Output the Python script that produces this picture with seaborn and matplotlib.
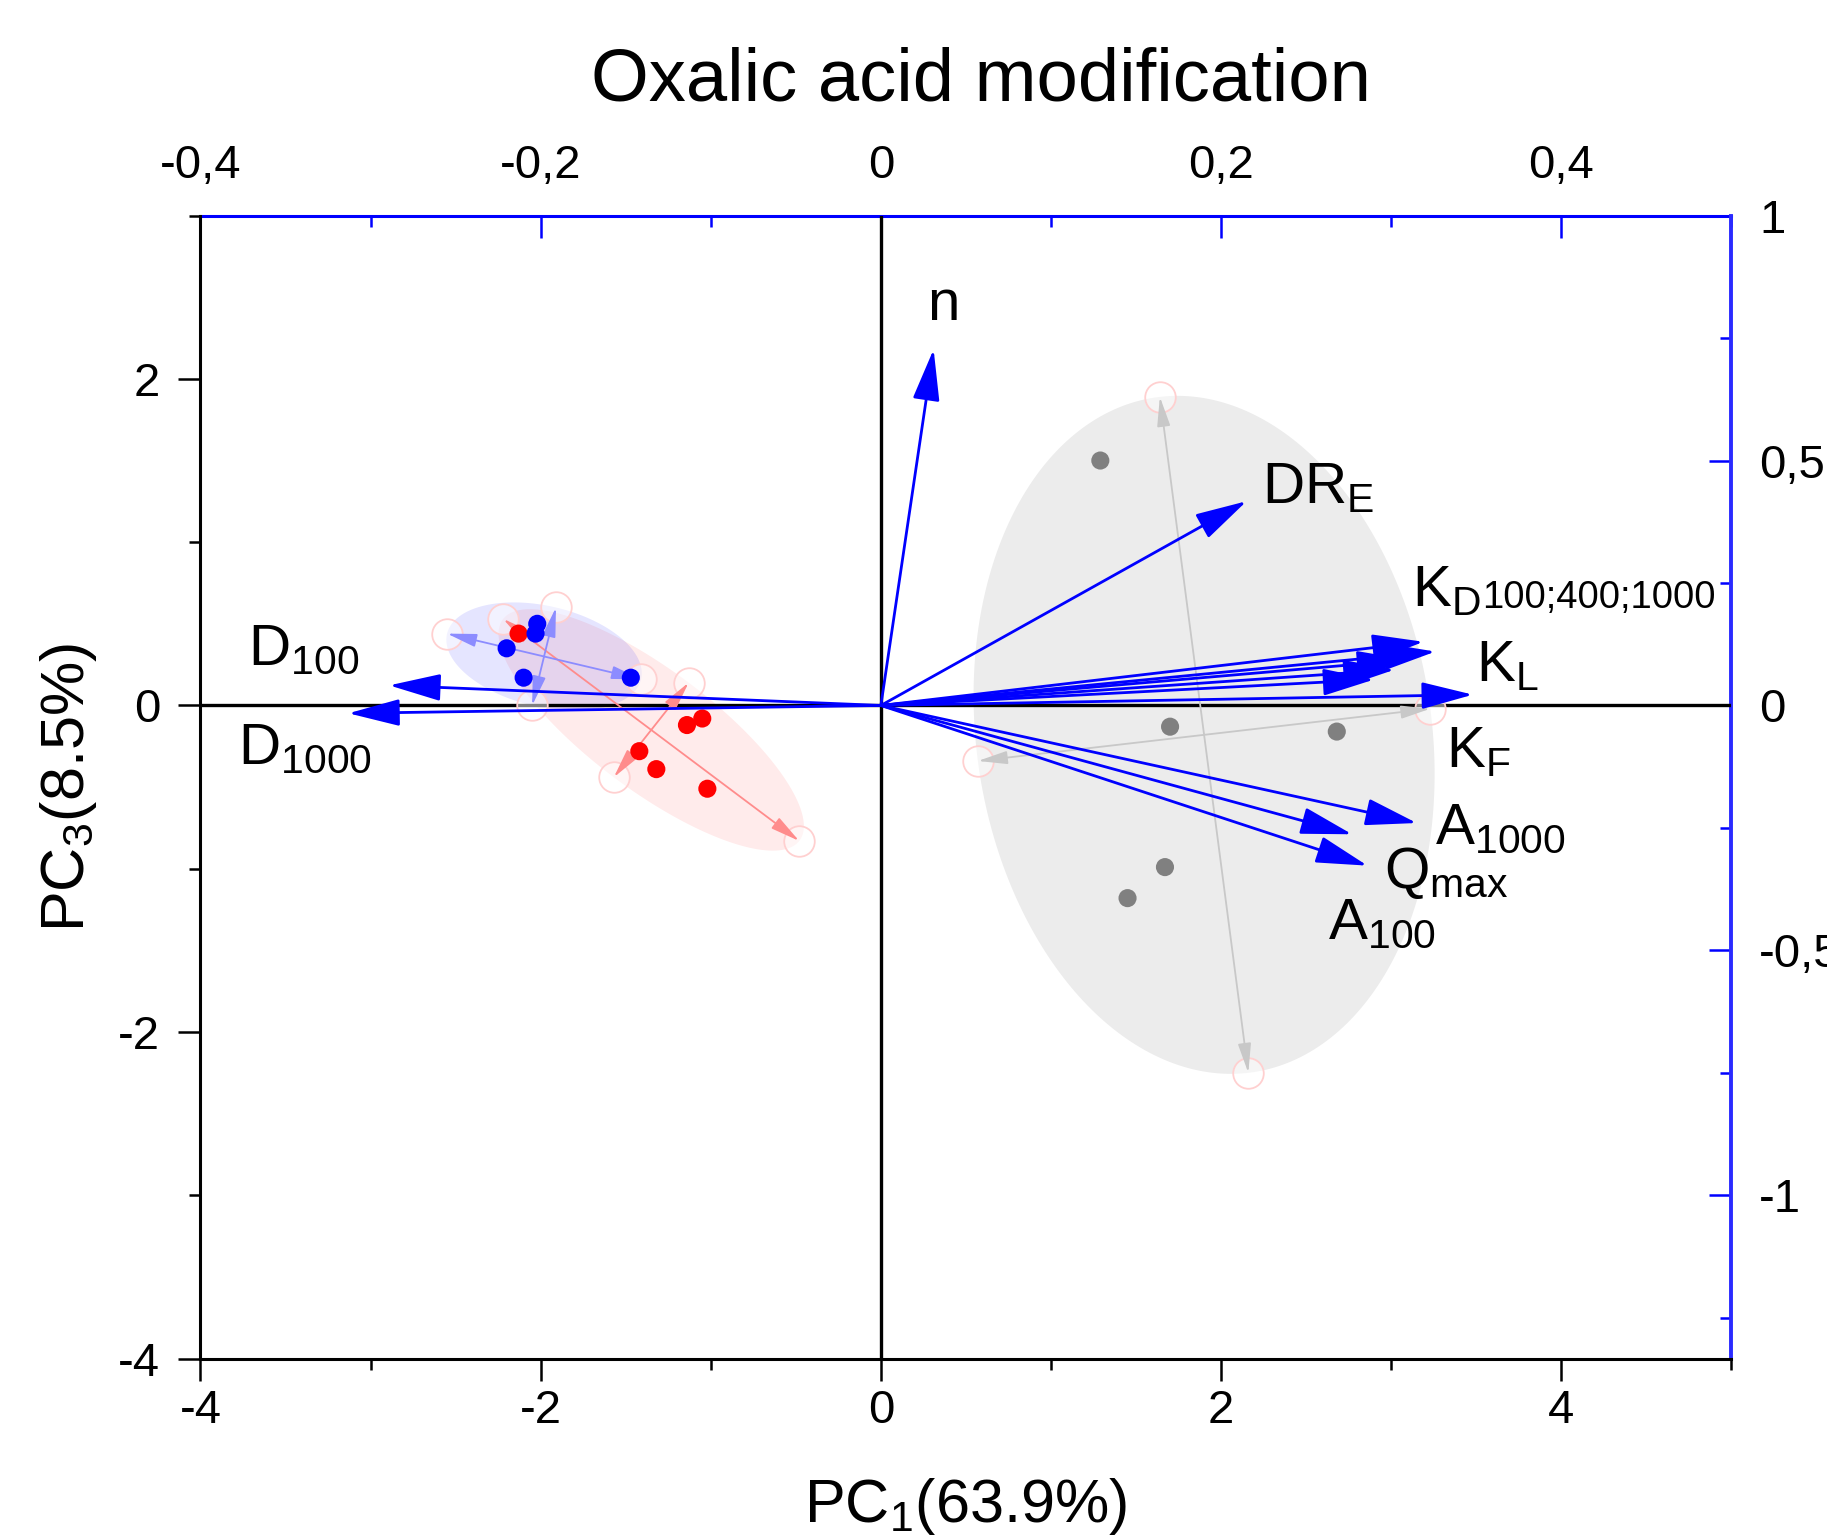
import numpy as np
import pandas as pd
import seaborn as sns
import matplotlib.pyplot as plt
from matplotlib.ticker import MultipleLocator, FuncFormatter

# scores, PC1 / PC3 (bottom and left axes)
gray_pc1 = [1.29, 1.70, 2.68, 1.67, 1.45]
gray_pc3 = [1.50, -0.13, -0.16, -0.99, -1.18]
red_pc1 = [-2.13, -1.05, -1.14, -1.42, -1.32, -1.02]
red_pc3 = [0.44, -0.08, -0.12, -0.28, -0.39, -0.51]
blue_pc1 = [-2.02, -2.03, -2.20, -2.10, -1.47]
blue_pc3 = [0.50, 0.44, 0.35, 0.17, 0.17]

# confidence ellipses: centre, end of first axis, end of second axis
ell_group = ["gray", "red", "blue"]
ell_center = [(1.90, -0.18), (-1.35, -0.15), (-1.98, 0.30)]
ell_axis1 = [(1.64, 1.89), (-2.22, 0.53), (-2.55, 0.44)]
ell_axis2 = [(3.23, -0.02), (-1.13, 0.14), (-1.91, 0.60)]

# loadings (top and right axes)
var_names = ["n", "DR_E", "KD100", "KD400", "KD1000", "K_L", "A400", "K_F",
             "A1000", "Qmax", "A100", "D100", "D1000"]
load_x = [0.031, 0.215, 0.319, 0.326, 0.310, 0.302, 0.290, 0.348,
          0.315, 0.277, 0.286, -0.289, -0.313]
load_y = [0.727, 0.417, 0.130, 0.110, 0.093, 0.073, 0.053, 0.022,
          -0.240, -0.263, -0.327, 0.041, -0.016]

# variable labels (text, baseline position in score units)
lab_text = ["n", r"$\mathrm{DR}_\mathrm{E}$", r"$\mathrm{K}_\mathrm{D}$", r"$\mathrm{K}_\mathrm{L}$",
            r"$\mathrm{K}_\mathrm{F}$", r"$\mathrm{A}_\mathrm{1000}$", r"$\mathrm{Q}_\mathrm{max}$",
            r"$\mathrm{A}_\mathrm{100}$", r"$\mathrm{D}_\mathrm{100}$", r"$\mathrm{D}_\mathrm{1000}$"]
lab_x = [0.27, 2.24, 3.12, 3.50, 3.32, 3.26, 2.96, 2.63, -3.72, -3.78]
lab_y = [2.36, 1.24, 0.61, 0.15, -0.38, -0.85, -1.12, -1.43, 0.25, -0.36]
kd_suffix = "100;400;1000"

X_SCALE = 10.0   # bottom = top * 10
Y_SCALE = 3.0    # left = right * 3

sns.set_style("ticks")
plt.rcParams["font.family"] = ["Liberation Sans", "DejaVu Sans"]
plt.rcParams["mathtext.fontset"] = "custom"
plt.rcParams["mathtext.rm"] = "Liberation Sans"
plt.rcParams["mathtext.it"] = "Liberation Sans:italic"
plt.rcParams["mathtext.bf"] = "Liberation Sans:bold"
plt.rcParams["axes.unicode_minus"] = False
plt.rcParams["text.color"] = "black"
plt.rcParams["axes.labelcolor"] = "black"
plt.rcParams["xtick.color"] = "black"
plt.rcParams["ytick.color"] = "black"

fig = plt.figure(figsize=(18.27, 15.40), dpi=100)
ax = fig.add_axes([0.1097, 0.1178, 0.838, 0.7422])

fill_col = {"gray": ("#808080", 0.15), "red": ("#ff0000", 0.08), "blue": ("#0000ff", 0.10)}
axis_col = {"gray": "#c8c8c8", "red": "#ff8c8c", "blue": "#8c8cff"}
dot_col = {"gray": "#808080", "red": "#ff0000", "blue": "#0000ff"}


def arrow(x0, y0, x1, y1, color, lw, scale, hl, hw, z):
    ax.annotate("", xy=(x1, y1), xytext=(x0, y0),
                arrowprops=dict(arrowstyle=f"-|>,head_length={hl},head_width={hw}",
                                color=color, lw=lw, mutation_scale=scale,
                                shrinkA=0, shrinkB=0),
                zorder=z)


t = np.linspace(0, 2 * np.pi, 300)
for g, c, a1, a2 in zip(ell_group, ell_center, ell_axis1, ell_axis2):
    c = np.array(c)
    u = np.array(a1) - c
    v = np.array(a2) - c
    ex = c[0] + np.cos(t) * u[0] + np.sin(t) * v[0]
    ey = c[1] + np.cos(t) * u[1] + np.sin(t) * v[1]
    col, al = fill_col[g]
    ax.fill(ex, ey, color=col, alpha=al, lw=0, zorder=1)
    ends = [c + u, c - u, c + v, c - v]
    ax.plot([p[0] for p in ends], [p[1] for p in ends], "o", ms=22, ls="none",
            mfc=(1, 1, 1, 0.5), mec="#ffd0d0", mew=1.3, zorder=3)
    for p in ends:
        arrow(c[0], c[1], p[0], p[1], axis_col[g], 1.3, 10, 1.8, 0.4, 3.5)

ax.axhline(0, color="black", lw=2.4, zorder=2)
ax.axvline(0, color="black", lw=2.4, zorder=2)

scores = pd.DataFrame({
    "PC1": gray_pc1 + red_pc1 + blue_pc1,
    "PC3": gray_pc3 + red_pc3 + blue_pc3,
    "group": ["gray"] * len(gray_pc1) + ["red"] * len(red_pc1) + ["blue"] * len(blue_pc1),
})
sns.scatterplot(data=scores, x="PC1", y="PC3", hue="group", palette=dot_col,
                s=170, edgecolor="none", legend=False, ax=ax, zorder=4)

for lx, ly in zip(load_x, load_y):
    arrow(0, 0, lx * X_SCALE, ly * Y_SCALE, "#0000ff", 2.0, 20, 1.6, 0.42, 5)

kd_text = None
for txt, x, y in zip(lab_text, lab_x, lab_y):
    tt = ax.text(x, y, txt, fontsize=42, va="baseline", ha="left", color="black", zorder=6)
    if txt == r"$\mathrm{K}_\mathrm{D}$":
        kd_text = tt
ax.annotate(kd_suffix, xy=(1.0, lab_y[2]), xycoords=(kd_text, "data"),
            xytext=(1, -1.5), textcoords="offset points", fontsize=27.5,
            va="baseline", ha="left", color="black", zorder=6)

ax.set_xlim(-4, 5)
ax.set_ylim(-4, 3)
ax.set_xticks([-4, -2, 0, 2, 4])
ax.set_yticks([-4, -2, 0, 2])
ax.xaxis.set_minor_locator(MultipleLocator(1))
ax.yaxis.set_minor_locator(MultipleLocator(1))
ax.tick_params(which="both", direction="out", width=1.8, colors="black", labelsize=34)
ax.tick_params(which="major", length=16)
ax.tick_params(which="minor", length=8)
ax.tick_params(axis="x", pad=6)
ax.tick_params(axis="y", pad=13)
for s in ["top", "right"]:
    ax.spines[s].set_visible(False)
for s in ["left", "bottom"]:
    ax.spines[s].set_linewidth(2.2)
    ax.spines[s].set_color("black")

ax.set_xlabel(r"PC$_\mathrm{1}$(63.9%)", fontsize=44, color="black")
ax.set_ylabel(r"PC$_\mathrm{3}$(8.5%)", fontsize=44, color="black")
ax.xaxis.set_label_coords(0.5, -0.103)
ax.yaxis.set_label_coords(-0.066, 0.5)


def comma(v, pos):
    s = f"{v:g}"
    if s == "-0":
        s = "0"
    return s.replace(".", ",")


secx = ax.secondary_xaxis("top", functions=(lambda v: v / X_SCALE, lambda v: v * X_SCALE))
secx.set_xticks([-0.4, -0.2, 0, 0.2, 0.4])
secx.xaxis.set_minor_locator(MultipleLocator(0.1))
secx.xaxis.set_major_formatter(FuncFormatter(comma))
secx.tick_params(which="both", direction="in", color="#0000ff", width=1.8,
                 labelsize=34, labelcolor="black", pad=20)
secx.tick_params(which="major", length=16)
secx.tick_params(which="minor", length=8)
secx.spines["top"].set_color("#0000ff")
secx.spines["top"].set_linewidth(2.2)

secy = ax.secondary_yaxis("right", functions=(lambda v: v / Y_SCALE, lambda v: v * Y_SCALE))
secy.set_yticks([-1, -0.5, 0, 0.5, 1])
secy.yaxis.set_minor_locator(MultipleLocator(0.25))
secy.yaxis.set_major_formatter(FuncFormatter(comma))
secy.tick_params(which="both", direction="in", color="#0000ff", width=1.8,
                 labelsize=34, labelcolor="black", pad=20)
secy.tick_params(which="major", length=16)
secy.tick_params(which="minor", length=8)
secy.spines["right"].set_color("#2a2aff")
secy.spines["right"].set_linewidth(2.8)

fig.text(0.537, 1 - 81 / 1540, "Oxalic acid modification", fontsize=53.5,
         ha="center", va="center", color="black")

fig.savefig("out.png", dpi=100)
